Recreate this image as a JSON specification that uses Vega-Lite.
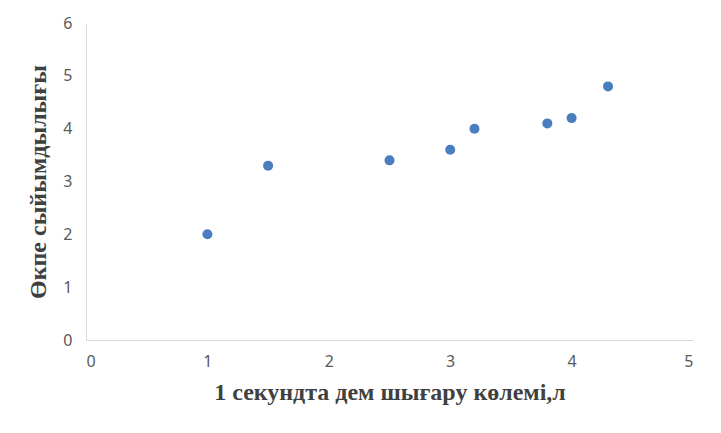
{
  "$schema": "https://vega.github.io/schema/vega-lite/v6.json",
  "width": 607,
  "height": 317,
  "autosize": {"type": "none"},
  "padding": {"left": 86, "top": 23, "right": 28, "bottom": 93},
  "background": "white",
  "config": {
    "view": {"stroke": null},
    "axis": {
      "grid": false,
      "ticks": false,
      "domainColor": "#d9d9d9",
      "domainWidth": 1,
      "labelFont": "Noto Sans",
      "labelFontSize": 16,
      "labelColor": "#595959",
      "titleFont": "Liberation Serif",
      "titleFontSize": 24,
      "titleFontWeight": "bold",
      "titleColor": "#404040"
    }
  },
  "data": {
    "values": [
      {"volume": 1.0, "capacity": 2.0},
      {"volume": 1.5, "capacity": 3.3},
      {"volume": 2.5, "capacity": 3.4},
      {"volume": 3.0, "capacity": 3.6},
      {"volume": 3.2, "capacity": 4.0},
      {"volume": 3.8, "capacity": 4.1},
      {"volume": 4.0, "capacity": 4.2},
      {"volume": 4.3, "capacity": 4.8}
    ]
  },
  "mark": {"type": "circle", "size": 100, "opacity": 1, "color": "#4a7ebf"},
  "encoding": {
    "x": {
      "field": "volume",
      "type": "quantitative",
      "title": "1 секундта  дем шығару көлемі,л",
      "scale": {"domain": [0, 5], "nice": false, "zero": true},
      "axis": {"values": [0, 1, 2, 3, 4, 5], "labelPadding": 13, "titlePadding": 11}
    },
    "y": {
      "field": "capacity",
      "type": "quantitative",
      "title": "Өкпе сыйымдылығы",
      "scale": {"domain": [0, 6], "nice": false},
      "axis": {"values": [0, 1, 2, 3, 4, 5, 6], "labelPadding": 14, "titlePadding": 12}
    }
  }
}
